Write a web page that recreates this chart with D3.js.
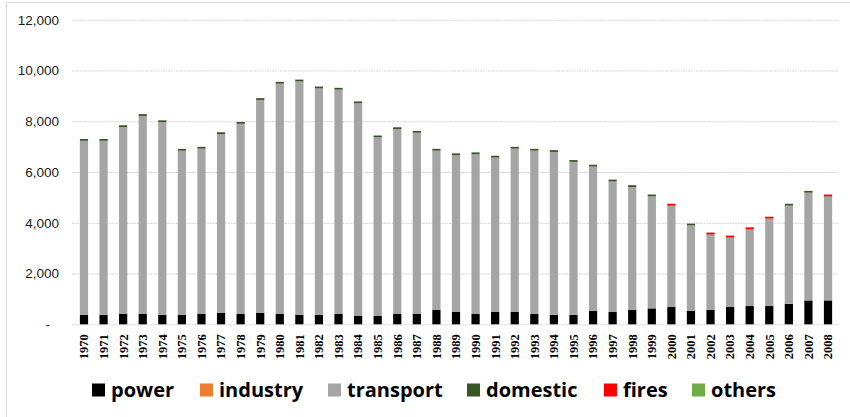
<!DOCTYPE html>
<html><head><meta charset="utf-8">
<script src="https://cdn.jsdelivr.net/npm/d3@7"></script>
<style>body{margin:0;background:#fff;}svg{display:block;}</style>
</head><body>
<script>
const years = d3.range(1970, 2009).map(String);
const totals = [7300,7300,7840,8280,8035,6910,6990,7565,7970,8910,9550,9640,9366,9315,8780,7436,7761,7617,6912,6732,6771,6638,6990,6912,6861,6470,6286,5700,5480,5112,4748,3965,3613,3495,3820,4239,4748,5256,5112];
const power = [370,370,405,405,370,370,405,445,405,445,405,370,370,405,327,327,405,405,575,484,405,484,484,405,370,370,536,484,575,627,680,536,575,680,719,719,810,941,941];
const industry = years.map(() => 0);
const domestic = [70,70,70,70,70,70,70,70,70,70,70,70,70,70,70,70,70,70,70,70,70,70,70,70,70,70,70,70,70,70,15,70,15,15,15,15,70,70,15];
const fires = [0,0,0,0,0,0,0,0,0,0,0,0,0,0,0,0,0,0,0,0,0,0,0,0,0,0,0,0,0,0,70,0,70,70,70,70,0,0,70];
const others = years.map(() => 0);
const transport = totals.map((t,i) => t - power[i] - industry[i] - domestic[i] - fires[i] - others[i]);
const seriesNames = ["power","industry","transport","domestic","fires","others"];
const colors = ["#000000","#ed7d31","#a5a5a5","#375623","#ff0000","#70ad47"];
const yTicks = [0,2000,4000,6000,8000,10000,12000];

const W = 850, H = 417;
const svg = d3.select("body").append("svg").attr("width", W).attr("height", H);
// frame
svg.append("path").attr("d","M6.5,417 V2.5 H850").attr("fill","none").attr("stroke","#d9d9d9").attr("stroke-width",1);

const x = d3.scaleBand().domain(years).range([74.2, 837.8]).paddingInner(0.58).paddingOuter(0.29);
const y = d3.scaleLinear().domain([0,12000]).range([324.3, 19.7]);

const gy = svg.append("g").attr("transform","translate(72,0)")
  .call(d3.axisLeft(y).tickValues(yTicks).tickSize(-766).tickFormat(d => d === 0 ? "-" : d3.format(",")(d)));
gy.select(".domain").remove();
gy.selectAll(".tick line").attr("stroke","#d9d9d9").attr("stroke-width",1).attr("stroke-dasharray", "2,0.6");
gy.selectAll(".tick text").attr("x",-13).attr("fill","#1a1a1a")
  .style("font-family","'Liberation Sans', Arial, sans-serif").style("font-size","13.5px");
gy.selectAll(".tick").filter(d => d === 0).select("text").attr("x",-22);

const table = years.map((yr,i) => ({year: yr, power: power[i], industry: industry[i], transport: transport[i], domestic: domestic[i], fires: fires[i], others: others[i]}));
const stacked = d3.stack().keys(seriesNames)(table);
svg.append("g").selectAll("g").data(stacked).join("g").attr("fill",(d,i) => colors[i])
  .selectAll("rect").data(d => d).join("rect")
  .attr("x", d => x(d.data.year)).attr("width", x.bandwidth())
  .attr("y", d => y(d[1])).attr("height", d => Math.max(0, y(d[0]) - y(d[1])));

const gx = svg.append("g").attr("transform","translate(0,324.3)")
  .call(d3.axisBottom(x).tickSize(0));
gx.select(".domain").remove();
gx.selectAll(".tick text").attr("transform","rotate(-90)").attr("text-anchor","end")
  .attr("x",-10).attr("y",0).attr("dy","0.35em").attr("fill","#000")
  .style("font-family","'Liberation Serif', 'Times New Roman', serif").style("font-weight","bold").style("font-size","12.5px");

// legend
const legX = [92, 200, 328, 467, 604, 692];
const leg = svg.append("g");
seriesNames.forEach((n,i) => {
  leg.append("rect").attr("x",legX[i]).attr("y",383.5).attr("width",13).attr("height",13).attr("fill",colors[i]);
  leg.append("text").attr("x",legX[i]+19).attr("y",390).attr("dy","0.35em").text(n)
    .attr("fill","#000").style("font-family","'Open Sans', sans-serif").style("font-weight","700").style("font-size","20px");
});
</script>
</body></html>
